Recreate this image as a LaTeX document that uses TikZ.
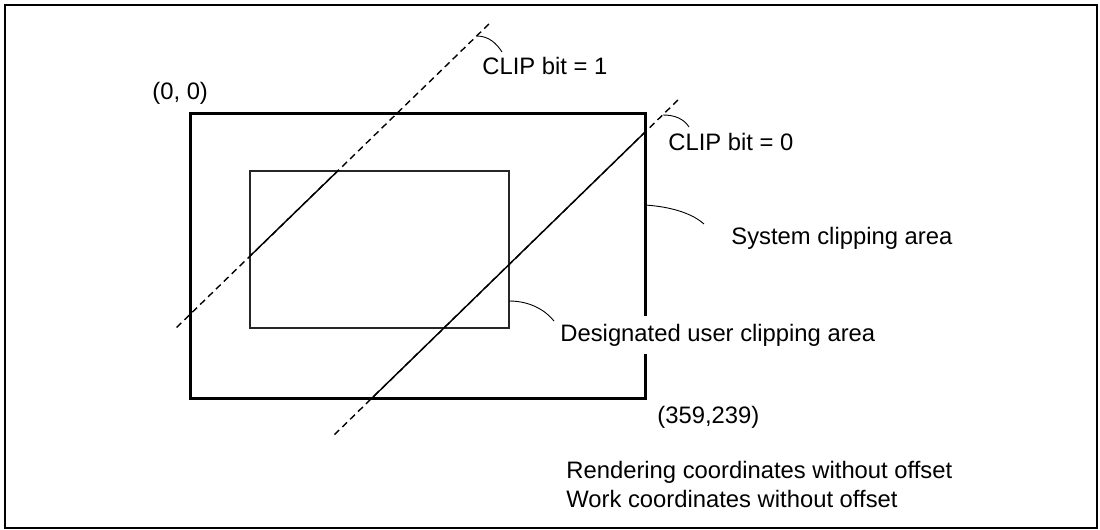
\documentclass[tikz,border=0pt]{standalone}
\usepackage{fontspec}
\setmainfont{Liberation Sans}

\begin{document}
\begin{tikzpicture}[x=0.5pt,y=-0.5pt,
  every node/.style={font=\fontsize{11.9}{14}\selectfont,inner sep=0pt,anchor=base west},
  frm/.style={line width=1.2pt},
  sysbox/.style={line width=1.5pt},
  usrbox/.style={line width=0.7pt,draw=black!85},
  clipln/.style={line width=0.7pt},
  dashln/.style={line width=0.7pt,dash pattern=on 3.3pt off 2.2pt},
  lead/.style={line width=0.45pt}]
 \useasboundingbox (0,0) rectangle (1100,530);
 \draw[frm] (5,5) rectangle (1097,528);
 % clipping areas
 \coordinate (s0) at (190,113); \coordinate (s1) at (645,398);
 \coordinate (u0) at (250,171); \coordinate (u1) at (509,328);
 \draw[sysbox] (s0) rectangle (s1);
 \draw[usrbox] (u0) rectangle (u1);
 % clip lines, solid only inside the area they are clipped to
 \coordinate (a1) at (489,24); \coordinate (b1) at (176,328);
 \coordinate (a0) at (678,100); \coordinate (b0) at (332,437);
 \draw[dashln] (a1)--(b1);
 \draw[dashln] (a0)--(b0);
 \begin{scope}
  \clip (u0) rectangle (u1);
  \draw[clipln] (a1)--(b1);
 \end{scope}
 \begin{scope}
  \clip (s0) rectangle (s1);
  \draw[clipln] (a0)--(b0);
 \end{scope}
 % labels
 \node (org) at (152,99) {(0, 0)};
 \node (cor) at (657,423) {(359,239)};
 \node (bit1) at (482,75) {CLIP bit = 1};
 \node (bit0) at (668,150) {CLIP bit = 0};
 \node (sys) at (731,244) {System clipping area};
 \node[fill=white,inner ysep=4pt,inner xsep=1pt] (usr) at (558,341) {Designated user clipping area};
 \node (nt1) at (566,478) {Rendering coordinates without offset};
 \node (nt2) at (566,507) {Work coordinates without offset};
 % leaders
 \coordinate (p1) at (477,36);  \coordinate (q1) at (502,52);
 \coordinate (p0) at (663,115); \coordinate (q0) at (689,127);
 \coordinate (ps) at (645,205); \coordinate (qs) at (704,224);
 \coordinate (pu) at (509,301); \coordinate (qu) at (554,321);
 \draw[lead] (p1) .. controls +(12,0) and +(-5,-8) .. (q1);
 \draw[lead] (p0) .. controls +(12,0) and +(-5,-8) .. (q0);
 \draw[lead] (ps) .. controls +(30,2) and +(-10,-9) .. (qs);
 \draw[lead] (pu) .. controls +(22,0) and +(-8,-10) .. (qu);
\end{tikzpicture}
\end{document}
